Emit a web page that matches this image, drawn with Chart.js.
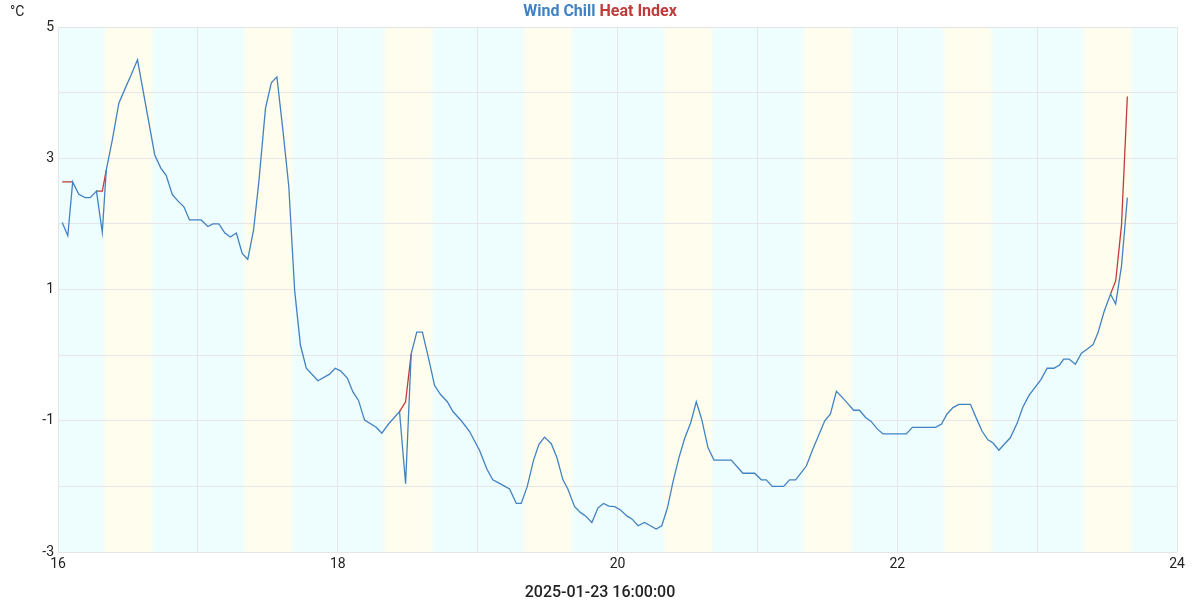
<!DOCTYPE html>
<html>
<head>
<meta charset="utf-8">
<script src="https://cdn.jsdelivr.net/npm/chart.js@4/dist/chart.umd.min.js"></script>
<style>
  html, body { margin: 0; padding: 0; background: #ffffff; }
  #wrap { width: 1200px; height: 600px; position: relative; }
</style>
</head>
<body>
<div id="wrap"><canvas id="c" width="1200" height="600"></canvas></div>
<script>
// minutes after 16:00 (2025-01-23)
const minutes = [
  1.8, 4.2, 6.3, 8.9, 11.7, 13.8, 16.5, 19.0, 20.7, 23.3,
  26.1, 29.0, 31.5, 34.1, 41.5, 44.1, 46.4, 49.0, 51.4, 54.0,
  56.4, 61.4, 64.3, 66.4, 69.0, 71.6, 73.9, 76.5, 79.0, 81.4,
  83.9, 86.1, 89.0, 91.5, 93.9, 96.5, 99.0, 101.5, 104.0, 106.5,
  111.5, 116.5, 118.9, 121.2, 124.1, 126.5, 128.9, 131.5, 136.5, 138.9,
  141.8, 146.5, 149.1, 151.5, 153.9, 156.3, 159.1, 161.5, 164.1, 167.0,
  169.4, 173.0, 176.5, 180.8, 184.0, 186.5, 189.2, 193.7, 196.6, 198.7,
  201.3, 204.0, 206.3, 208.7, 211.6, 214.0, 216.6, 218.7, 221.6, 224.2,
  226.3, 229.0, 231.6, 234.0, 236.3, 238.8, 241.3, 244.0, 246.3, 248.8,
  251.6, 254.1, 256.6, 259.0, 261.4, 263.8, 266.3, 268.8, 271.4, 273.8,
  276.2, 278.8, 281.4, 288.8, 293.8, 298.8, 301.7, 303.8, 306.4, 311.3,
  313.8, 316.4, 321.0, 323.6, 326.3, 328.9, 331.3, 333.9, 336.3, 338.8,
  341.3, 343.8, 346.4, 348.8, 351.3, 353.9, 363.9, 366.5, 376.4, 379.0,
  381.3, 383.9, 386.4, 391.4, 393.9, 396.4, 398.9, 401.1, 403.6, 406.1,
  408.5, 411.4, 413.9, 416.6, 421.7, 424.3, 427.2, 429.6, 431.4, 433.7,
  436.4, 439.0, 441.4, 444.0, 446.1, 448.7, 451.5, 453.7, 456.2, 458.7
];
const windChill = [
  2.02, 1.82, 2.64, 2.45, 2.40, 2.40, 2.50, 1.87, 2.82, 3.28,
  3.84, 4.08, 4.28, 4.50, 3.05, 2.85, 2.74, 2.45, 2.35, 2.26,
  2.06, 2.06, 1.96, 2.00, 2.00, 1.86, 1.80, 1.86, 1.55, 1.46,
  1.91, 2.62, 3.76, 4.15, 4.24, 3.42, 2.57, 0.99, 0.15, -0.20,
  -0.39, -0.29, -0.20, -0.24, -0.35, -0.56, -0.69, -0.99, -1.10, -1.19,
  -1.05, -0.86, -1.96, 0.02, 0.35, 0.35, -0.07, -0.46, -0.60, -0.71,
  -0.86, -1.00, -1.16, -1.45, -1.74, -1.90, -1.95, -2.04, -2.26, -2.26,
  -2.00, -1.60, -1.36, -1.25, -1.35, -1.56, -1.90, -2.04, -2.31, -2.40,
  -2.45, -2.55, -2.33, -2.26, -2.30, -2.31, -2.36, -2.45, -2.50, -2.60,
  -2.55, -2.60, -2.65, -2.60, -2.33, -1.93, -1.57, -1.27, -1.03, -0.71,
  -0.99, -1.41, -1.60, -1.60, -1.80, -1.80, -1.90, -1.90, -2.00, -2.00,
  -1.90, -1.90, -1.69, -1.45, -1.22, -1.00, -0.90, -0.55, -0.64, -0.74,
  -0.84, -0.84, -0.95, -1.01, -1.12, -1.20, -1.20, -1.10, -1.10, -1.05,
  -0.90, -0.80, -0.75, -0.75, -0.96, -1.16, -1.29, -1.34, -1.45, -1.35,
  -1.26, -1.04, -0.79, -0.61, -0.37, -0.20, -0.20, -0.15, -0.06, -0.06,
  -0.14, 0.03, 0.09, 0.16, 0.34, 0.66, 0.93, 0.78, 1.36, 2.40
];
const heatIndex = [
  2.64, 2.64, 2.64, 2.45, 2.40, 2.40, 2.50, 2.50, 2.82, 3.28,
  3.84, 4.08, 4.28, 4.50, 3.05, 2.85, 2.74, 2.45, 2.35, 2.26,
  2.06, 2.06, 1.96, 2.00, 2.00, 1.86, 1.80, 1.86, 1.55, 1.46,
  1.91, 2.62, 3.76, 4.15, 4.24, 3.42, 2.57, 0.99, 0.15, -0.20,
  -0.39, -0.29, -0.20, -0.24, -0.35, -0.56, -0.69, -0.99, -1.10, -1.19,
  -1.05, -0.86, -0.71, 0.02, 0.35, 0.35, -0.07, -0.46, -0.60, -0.71,
  -0.86, -1.00, -1.16, -1.45, -1.74, -1.90, -1.95, -2.04, -2.26, -2.26,
  -2.00, -1.60, -1.36, -1.25, -1.35, -1.56, -1.90, -2.04, -2.31, -2.40,
  -2.45, -2.55, -2.33, -2.26, -2.30, -2.31, -2.36, -2.45, -2.50, -2.60,
  -2.55, -2.60, -2.65, -2.60, -2.33, -1.93, -1.57, -1.27, -1.03, -0.71,
  -0.99, -1.41, -1.60, -1.60, -1.80, -1.80, -1.90, -1.90, -2.00, -2.00,
  -1.90, -1.90, -1.69, -1.45, -1.22, -1.00, -0.90, -0.55, -0.64, -0.74,
  -0.84, -0.84, -0.95, -1.01, -1.12, -1.20, -1.20, -1.10, -1.10, -1.05,
  -0.90, -0.80, -0.75, -0.75, -0.96, -1.16, -1.29, -1.34, -1.45, -1.35,
  -1.26, -1.04, -0.79, -0.61, -0.37, -0.20, -0.20, -0.15, -0.06, -0.06,
  -0.14, 0.03, 0.09, 0.16, 0.34, 0.66, 0.93, 1.13, 1.98, 3.94
];
const startHour = 16;
const xMin = 16, xMax = 24;
const yMin = -3, yMax = 5;
const xTickLabels = [16, 18, 20, 22, 24];
const yTickLabels = [-3, -1, 1, 3, 5];
const titleParts = ["Wind Chill", "Heat Index"];
const unitLabel = "°C";
const xAxisTitle = "2025-01-23 16:00:00";

const BLUE = '#4282c2';
const RED = '#c23b3b';
const FONT = 'Roboto, "Noto Sans", sans-serif';

const toPts = vals => vals.map((v, i) => ({ x: startHour + minutes[i] / 60, y: v }));

const bandPlugin = {
  id: 'bands',
  beforeDraw(chart) {
    const { ctx, chartArea: a, scales: { x } } = chart;
    ctx.save();
    ctx.fillStyle = 'rgb(238,253,253)';
    ctx.fillRect(a.left, a.top, a.right - a.left, a.bottom - a.top);
    for (let h = xMin; h < xMax; h++) {
      const x1 = x.getPixelForValue(h + 20 / 60);
      const x2 = x.getPixelForValue(h + 40.5 / 60);
      const e = 3;
      const g = ctx.createLinearGradient(x1 - e, 0, x2 + e, 0);
      const w = (x2 - x1) + 2 * e;
      g.addColorStop(0, 'rgba(255,254,238,0)');
      g.addColorStop((2 * e) / w, 'rgb(255,254,238)');
      g.addColorStop(1 - (2 * e) / w, 'rgb(255,254,238)');
      g.addColorStop(1, 'rgba(255,254,238,0)');
      ctx.fillStyle = g;
      ctx.fillRect(x1 - e, a.top, w, a.bottom - a.top);
    }
    ctx.restore();
  },
  afterDraw(chart) {
    const { ctx } = chart;
    ctx.save();
    ctx.font = 'bold 16px ' + FONT;
    ctx.textBaseline = 'middle';
    const sep = ' ';
    const w0 = ctx.measureText(titleParts[0]).width;
    const ws = ctx.measureText(sep).width;
    const w1 = ctx.measureText(titleParts[1]).width;
    let sx = chart.width / 2 - (w0 + ws + w1) / 2;
    ctx.textAlign = 'left';
    ctx.fillStyle = BLUE;
    ctx.fillText(titleParts[0], sx, 12);
    ctx.fillStyle = RED;
    ctx.fillText(titleParts[1], sx + w0 + ws, 12);
    ctx.font = '14px ' + FONT;
    ctx.fillStyle = '#222';
    ctx.fillText(unitLabel, 10, 12);
    ctx.font = '500 16px ' + FONT;
    ctx.textAlign = 'center';
    ctx.fillText(xAxisTitle, chart.width / 2, 593);
    ctx.restore();
  }
};

// hide heat-index segments that coincide exactly with wind chill (they sit under the blue line)
const sameAsWC = ctx => heatIndex[ctx.p0DataIndex] === windChill[ctx.p0DataIndex] &&
                        heatIndex[ctx.p1DataIndex] === windChill[ctx.p1DataIndex];

new Chart(document.getElementById('c'), {
  type: 'line',
  data: {
    datasets: [
      {
        label: titleParts[0],
        data: toPts(windChill),
        borderColor: BLUE,
        borderWidth: 1.3,
        pointRadius: 0,
        tension: 0,
        fill: false,
        order: 0
      },
      {
        label: titleParts[1],
        data: toPts(heatIndex),
        borderColor: RED,
        borderWidth: 1.3,
        pointRadius: 0,
        tension: 0,
        fill: false,
        order: 1,
        segment: { borderColor: c => sameAsWC(c) ? 'rgba(0,0,0,0)' : undefined }
      }
    ]
  },
  options: {
    responsive: false,
    animation: false,
    devicePixelRatio: 1,
    layout: { padding: { left: 0, right: 23, top: 27, bottom: 0 } },
    plugins: {
      legend: { display: false },
      title: { display: false },
      tooltip: { enabled: false }
    },
    scales: {
      x: {
        type: 'linear',
        min: xMin, max: xMax,
        afterFit(s) { s.height = 48; },
        ticks: {
          stepSize: 1,
          autoSkip: false,
          maxRotation: 0,
          padding: 4,
          color: '#222',
          font: { family: FONT, size: 14 },
          callback: v => xTickLabels.includes(v) ? String(v) : ''
        },
        grid: { color: '#e6e6e6', drawTicks: false, lineWidth: 1 },
        border: { display: false },
        title: { display: false }
      },
      y: {
        type: 'linear',
        min: yMin, max: yMax,
        afterFit(s) { s.width = 58; },
        ticks: {
          stepSize: 1,
          autoSkip: false,
          padding: 4,
          color: '#222',
          font: { family: FONT, size: 14 },
          callback: v => yTickLabels.includes(v) ? String(v) : ''
        },
        grid: { color: '#e6e6e6', drawTicks: false, lineWidth: 1 },
        border: { display: false }
      }
    }
  },
  plugins: [bandPlugin]
});
</script>
</body>
</html>
